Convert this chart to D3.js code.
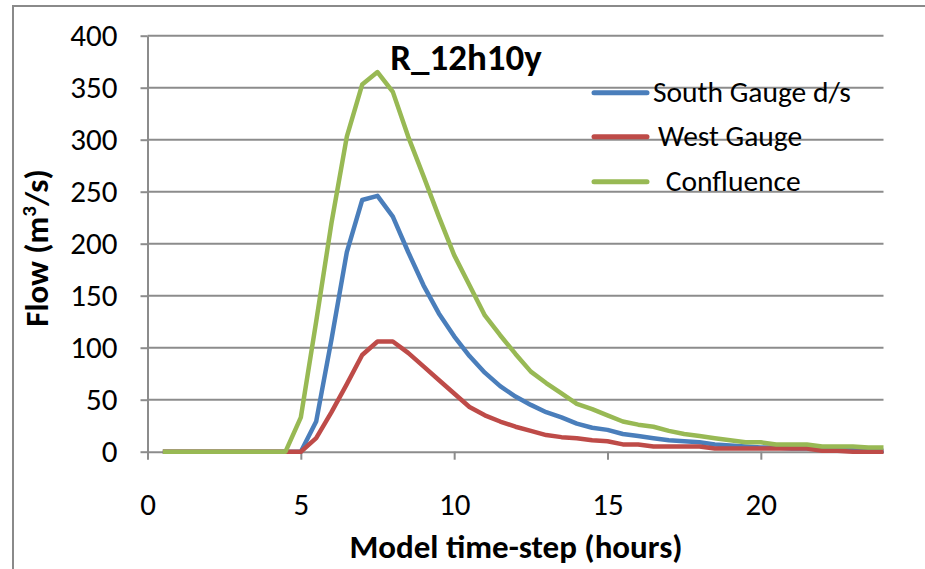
<!DOCTYPE html>
<html>
<head>
<meta charset="utf-8">
<script src="https://cdn.jsdelivr.net/npm/d3@7"></script>
<style>
  body { margin: 0; background: #fff; }
  svg text { font-family: Carlito, Lato, "Open Sans", sans-serif; fill: #000; }
</style>
</head>
<body>
<div id="chart"></div>
<script>
// model time steps (hours)
var hours = [0.5, 1, 1.5, 2, 2.5, 3, 3.5, 4, 4.5, 5, 5.5, 6, 6.5, 7, 7.5, 8, 8.5, 9, 9.5, 10,
             10.5, 11, 11.5, 12, 12.5, 13, 13.5, 14, 14.5, 15, 15.5, 16, 16.5, 17, 17.5, 18,
             18.5, 19, 19.5, 20, 20.5, 21, 21.5, 22, 22.5, 23, 23.5, 24];

var southGauge = [0, 0, 0, 0, 0, 0, 0, 0, 0, 0, 29, 108, 192, 242, 246, 226, 192, 160, 133, 111,
                  92, 76, 63, 53, 45, 38, 33, 27, 23, 21, 17, 15, 13, 11, 10, 9,
                  7, 6, 5, 4, 4, 3, 3, 3, 2, 2, 1, 1];

var westGauge = [0, 0, 0, 0, 0, 0, 0, 0, 0, 0, 13, 38, 65, 93, 106, 106, 95, 82, 69, 56,
                 43, 35, 29, 24, 20, 16, 14, 13, 11, 10, 7, 7, 5, 5, 5, 5,
                 3, 3, 3, 3, 3, 3, 3, 1, 1, 0, 0, 0];

var confluence = [0, 0, 0, 0, 0, 0, 0, 0, 0, 33, 125, 220, 303, 353, 365, 346, 303, 265, 226, 189,
                  160, 131, 112, 94, 77, 66, 56, 46, 41, 35, 29, 26, 24, 20, 17, 15,
                  13, 11, 9, 9, 7, 7, 7, 5, 5, 5, 4, 4];

var seriesNames = ["South Gauge d/s", "West Gauge", " Confluence"];
var seriesColors = ["#4a7ebb", "#be4b48", "#98b954"];
var yTicks = [0, 50, 100, 150, 200, 250, 300, 350, 400];
var xTicks = [0, 5, 10, 15, 20];

var W = 925, H = 569;
var x = d3.scaleLinear().domain([0, 24]).range([147.5, 883.5]);
var y = d3.scaleLinear().domain([0, 400]).range([451.7, 35.7]);

var svg = d3.select("#chart").append("svg")
    .attr("width", W)
    .attr("height", H);

// outer chart frame (only top and left edges show in the crop)
svg.append("path")
    .attr("d", "M13,569 L13,6 L925,6")
    .attr("fill", "none")
    .attr("stroke", "#8a8a8a")
    .attr("stroke-width", 2);

// gridlines
svg.append("g")
    .selectAll("line")
    .data(yTicks.filter(function(d) { return d > 0; }))
    .enter()
    .append("line")
    .attr("x1", x(0)).attr("x2", x(24))
    .attr("y1", function(d) { return y(d); })
    .attr("y2", function(d) { return y(d); })
    .attr("stroke", "#8c8c8c")
    .attr("stroke-width", 2);

var yAxis = svg.append("g")
    .attr("transform", "translate(" + x(0) + ",0)")
    .call(d3.axisLeft(y).tickValues(yTicks).tickSize(7).tickSizeOuter(0).tickPadding(23));

var xAxis = svg.append("g")
    .attr("transform", "translate(0," + y(0) + ")")
    .call(d3.axisBottom(x).tickValues(xTicks).tickSize(8).tickSizeOuter(0).tickPadding(34));

[yAxis, xAxis].forEach(function(a) {
    a.select(".domain").attr("stroke", "#8c8c8c").attr("stroke-width", 2);
    a.selectAll(".tick line").attr("stroke", "#8c8c8c").attr("stroke-width", 2);
    a.selectAll(".tick text")
      .attr("font-size", "31px")
      .attr("font-family", "Carlito, Lato, sans-serif")
      .attr("fill", "#000");
});
yAxis.selectAll(".tick text").attr("dy", "0.32em");
xAxis.selectAll(".tick text").attr("dy", "0.7em");

// series lines, drawn in legend order so Confluence ends on top
var allSeries = [southGauge, westGauge, confluence];
var line = d3.line()
    .x(function(d, i) { return x(hours[i]); })
    .y(function(d) { return y(d); });

svg.append("g")
    .selectAll("path")
    .data(allSeries)
    .enter()
    .append("path")
    .attr("d", function(d) { return line(d); })
    .attr("fill", "none")
    .attr("stroke", function(d, i) { return seriesColors[i]; })
    .attr("stroke-width", 4.5)
    .attr("stroke-linejoin", "round");

// title
svg.append("text")
    .attr("x", 466)
    .attr("y", 69.5)
    .attr("text-anchor", "middle")
    .attr("font-size", "37px")
    .attr("font-weight", "bold")
    .text("R_12h10y");

// axis titles
svg.append("text")
    .attr("x", 516)
    .attr("y", 558)
    .attr("text-anchor", "middle")
    .attr("font-size", "33px")
    .attr("font-weight", "bold")
    .text("Model time-step (hours)");

var yTitle = svg.append("text")
    .attr("transform", "translate(48,248) rotate(-90)")
    .attr("text-anchor", "middle")
    .attr("font-size", "33px")
    .attr("font-weight", "bold");
yTitle.append("tspan").text("Flow (m");
yTitle.append("tspan").attr("font-size", "21px").attr("dy", "-12").text("3");
yTitle.append("tspan").attr("dy", "12").text("/s)");

// legend
var legendY = [92.7, 136.7, 181.7];
var legend = svg.append("g")
    .selectAll("g")
    .data(seriesNames)
    .enter()
    .append("g")
    .attr("transform", function(d, i) { return "translate(0," + legendY[i] + ")"; });

legend.append("line")
    .attr("x1", 594).attr("x2", 647)
    .attr("y1", 0).attr("y2", 0)
    .attr("stroke", function(d, i) { return seriesColors[i]; })
    .attr("stroke-width", 5)
    .attr("stroke-linecap", "round");

legend.append("text")
    .attr("x", function(d, i) { return [653, 658, 659][i]; })
    .attr("y", 9.5)
    .attr("font-size", "29.5px")
    .attr("xml:space", "preserve")
    .style("white-space", "pre")
    .text(function(d) { return d; });
</script>
</body>
</html>
